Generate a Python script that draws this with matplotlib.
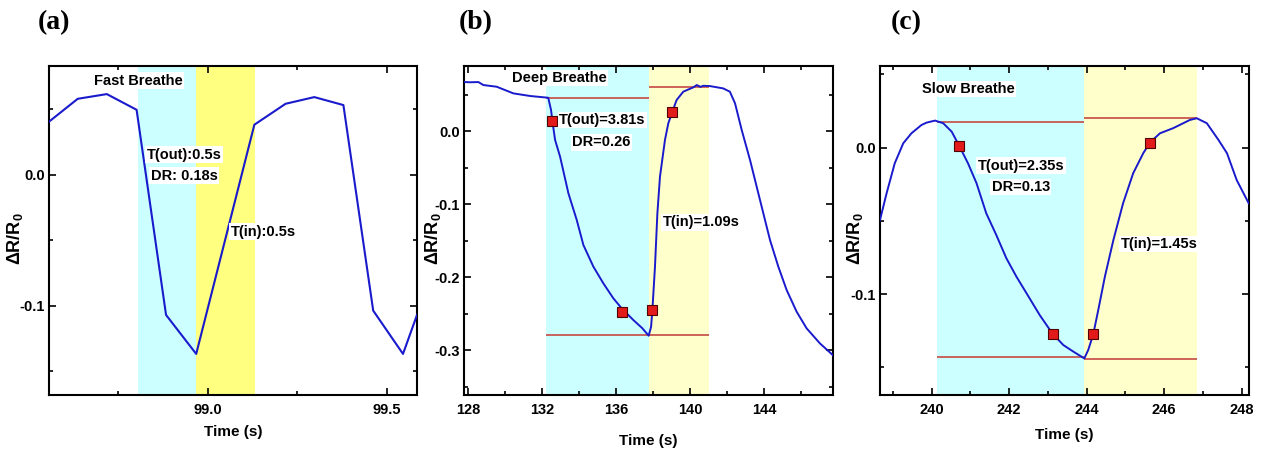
import matplotlib
matplotlib.use("Agg")
import matplotlib.pyplot as plt
from matplotlib import font_manager as fm
from matplotlib.ticker import FixedLocator, FormatStrFormatter

# ---------------- data ----------------
# (a) Fast breathe
a_t = [98.558, 98.638, 98.719, 98.802, 98.884, 98.968, 99.130, 99.217,
       99.297, 99.378, 99.461, 99.544, 99.583]
a_v = [0.0406, 0.0581, 0.0617, 0.0497, -0.1071, -0.1369, 0.0383, 0.0543,
       0.0594, 0.0533, -0.1038, -0.1369, -0.1071]
a_exhale = (98.807, 98.968)
a_inhale = (98.968, 99.1325)

# (b) Deep breathe
b_t = [127.78, 128.10, 128.54, 128.81, 129.53, 130.43, 131.34, 132.32, 132.47,
       132.56, 132.69, 132.96, 133.41, 133.86, 134.22, 134.76, 135.30, 135.84,
       136.29, 136.92, 137.40, 137.75, 137.88, 137.95, 138.09, 138.22, 138.36,
       138.63, 138.81, 139.03, 139.26, 139.62, 139.90, 140.16, 140.35, 140.55,
       140.70, 141.06, 141.78, 142.14, 142.42, 142.78, 143.23, 143.59, 143.95,
       144.31, 144.76, 145.21, 145.75, 146.29, 147.01, 147.70]
b_v = [0.0671, 0.0668, 0.0671, 0.0630, 0.0607, 0.0516, 0.0480, 0.0456, 0.0288,
       0.0105, -0.0123, -0.0352, -0.0854, -0.1219, -0.1562, -0.1858, -0.2087,
       -0.2292, -0.2429, -0.2589, -0.2700, -0.2804, -0.2680, -0.2452, -0.1858,
       -0.1128, -0.0626, -0.0123, 0.0105, 0.0265, 0.0425, 0.0539, 0.0570,
       0.0598, 0.0630, 0.0605, 0.0620, 0.0616, 0.0584, 0.0539, 0.0379, 0.0014,
       -0.0397, -0.0763, -0.1128, -0.1493, -0.1858, -0.2178, -0.2475, -0.2703,
       -0.2909, -0.3068]
b_mark_t = [132.51, 136.29, 137.95, 139.03]
b_mark_v = [0.0137, -0.2475, -0.2452, 0.0265]
b_exhale = (132.2, 137.75)
b_inhale = (137.75, 141.0)
b_top_out, b_top_in, b_bottom = 0.0456, 0.0603, -0.2795

# (c) Slow breathe
c_t = [238.67, 238.84, 239.05, 239.27, 239.48, 239.74, 239.87, 240.09, 240.30,
       240.52, 240.71, 240.94, 241.16, 241.41, 241.67, 241.93, 242.19, 242.45,
       242.79, 243.12, 243.40, 243.66, 243.94, 244.04, 244.17, 244.30, 244.47,
       244.69, 244.94, 245.20, 245.46, 245.63, 245.89, 246.23, 246.40, 246.66,
       246.84, 247.10, 247.40, 247.62, 247.87, 248.18]
c_v = [-0.0494, -0.0312, -0.0107, 0.0030, 0.0098, 0.0155, 0.0171, 0.0185,
       0.0167, 0.0109, 0.0014, -0.0107, -0.0243, -0.0448, -0.0597, -0.0756,
       -0.0882, -0.0995, -0.1144, -0.1271, -0.1349, -0.1394, -0.1440, -0.1383,
       -0.1276, -0.1109, -0.0882, -0.0631, -0.0380, -0.0175, -0.0038, 0.0034,
       0.0098, 0.0133, 0.0155, 0.0189, 0.0201, 0.0167, 0.0053, -0.0038,
       -0.0221, -0.0380]
c_mark_t = [240.71, 243.12, 244.17, 245.63]
c_mark_v = [0.0014, -0.1271, -0.1276, 0.0034]
c_exhale = (240.13, 243.92)
c_inhale = (243.92, 246.84)
c_top_out, c_top_in = 0.0178, 0.0205
c_bot_out, c_bot_in = -0.1433, -0.1444

# ---------------- fonts ----------------
def available(name):
    try:
        fm.findfont(fm.FontProperties(family=name, weight='bold'),
                    fallback_to_default=False)
        return True
    except Exception:
        return False

if available('Liberation Sans Narrow'):
    SANS, FS = 'Liberation Sans Narrow', 12
else:
    SANS, FS = 'Liberation Sans', 10.5
WIDE = 'Liberation Sans' if available('Liberation Sans') else 'DejaVu Sans'
SERIF = 'Liberation Serif' if available('Liberation Serif') else 'DejaVu Serif'

plt.rcParams['font.family'] = [SANS, 'DejaVu Sans']
plt.rcParams['font.weight'] = 'bold'
plt.rcParams['axes.unicode_minus'] = False
plt.rcParams['mathtext.fontset'] = 'custom'
plt.rcParams['mathtext.rm'] = WIDE + ':bold'
plt.rcParams['mathtext.it'] = WIDE + ':bold'
plt.rcParams['mathtext.bf'] = WIDE + ':bold'

CURVE = '#1a1acd'
CYAN = '#ccffff'
YEL_A = '#ffff80'
YEL = '#ffffcc'
RED_LINE = '#c8574f'
MARK_FACE = '#e31a1a'
MARK_EDGE = '#500000'

W, H = 1263, 454
fig = plt.figure(figsize=(W / 100, H / 100), dpi=100)

def make_ax(left_px, right_px):
    return fig.add_axes([left_px / W, 1 - 395 / H, (right_px - left_px) / W,
                         (395 - 65.7) / H])

def style(ax, xmaj, xmin, ymaj, ymin, xfmt, ylab_x, xlab_y):
    ax.xaxis.set_major_locator(FixedLocator(xmaj))
    ax.xaxis.set_minor_locator(FixedLocator(xmin))
    ax.yaxis.set_major_locator(FixedLocator(ymaj))
    ax.yaxis.set_minor_locator(FixedLocator(ymin))
    ax.xaxis.set_major_formatter(FormatStrFormatter(xfmt))
    ax.yaxis.set_major_formatter(FormatStrFormatter('%.1f'))
    ax.tick_params(which='both', direction='in', top=True, right=True,
                   width=1.2, colors='black')
    ax.tick_params(which='major', length=5)
    ax.tick_params(which='minor', length=3)
    ax.tick_params(axis='x', which='major', pad=6, labelsize=FS)
    ax.tick_params(axis='y', which='major', pad=3, labelsize=FS)
    for lab in ax.get_xticklabels() + ax.get_yticklabels():
        lab.set_fontweight('bold')
    for s in ax.spines.values():
        s.set_linewidth(1.5)
    ax.set_xlabel('Time (s)', fontsize=FS + 0.5, fontweight='bold')
    ax.xaxis.set_label_coords(0.5, xlab_y)
    ax.xaxis.label.set_va('center')
    ax.set_ylabel('ΔR/R$_0$', fontsize=13, fontweight='bold', family=WIDE)
    ax.yaxis.set_label_coords(ylab_x, 0.475)
    ax.yaxis.label.set_va('center')

def note(ax, x, y, s, box=True):
    kw = dict(ha='center', va='center', fontsize=FS, fontweight='bold',
              color='black', zorder=6)
    if box:
        kw['bbox'] = dict(facecolor='white', edgecolor='none', pad=1.0)
    ax.text(x, y, s, **kw)

# ---------- (a) ----------
axa = make_ax(49, 417)
axa.axvspan(*a_exhale, color=CYAN, zorder=0, lw=0)
axa.axvspan(*a_inhale, color=YEL_A, zorder=0, lw=0)
axa.plot(a_t, a_v, color=CURVE, lw=1.5, zorder=3)
axa.set_xlim(98.558, 99.583)
axa.set_ylim(-0.1683, 0.0834)
style(axa, [99.0, 99.5], [98.75, 99.25], [-0.1, 0.0], [-0.15, -0.05, 0.05],
      '%.1f', -0.092, -0.1125)
note(axa, 98.806, 0.0719, 'Fast Breathe')
note(axa, 98.934, 0.0153, 'T(out):0.5s')
note(axa, 98.934, -0.0008, 'DR: 0.18s')
note(axa, 99.155, -0.0436, 'T(in):0.5s')

# ---------- (b) ----------
axb = make_ax(464.3, 832.7)
axb.axvspan(*b_exhale, color=CYAN, zorder=0, lw=0)
axb.axvspan(*b_inhale, color=YEL, zorder=0, lw=0)
axb.hlines(b_top_out, *b_exhale, color=RED_LINE, lw=1.3, zorder=2)
axb.hlines(b_top_in, *b_inhale, color=RED_LINE, lw=1.3, zorder=2)
axb.hlines(b_bottom, b_exhale[0], b_inhale[1], color=RED_LINE, lw=1.3, zorder=2)
axb.plot(b_t, b_v, color=CURVE, lw=1.4, zorder=3)
axb.plot(b_mark_t, b_mark_v, ls='none', marker='s', ms=6.5, mfc=MARK_FACE,
         mec=MARK_EDGE, mew=0.8, zorder=5)
axb.set_xlim(127.78, 147.70)
axb.set_ylim(-0.3616, 0.0895)
style(axb, [128, 132, 136, 140, 144], [130, 134, 138, 142, 146],
      [-0.3, -0.2, -0.1, 0.0], [-0.35, -0.25, -0.15, -0.05, 0.05],
      '%d', -0.085, -0.14)
note(axb, 132.93, 0.0726, 'Deep Breathe')
note(axb, 135.25, 0.0151, 'T(out)=3.81s')
note(axb, 135.2, -0.0151, 'DR=0.26')
note(axb, 140.6, -0.1247, 'T(in)=1.09s')

# ---------- (c) ----------
axc = make_ax(880, 1248.7)
axc.axvspan(*c_exhale, color=CYAN, zorder=0, lw=0)
axc.axvspan(*c_inhale, color=YEL, zorder=0, lw=0)
axc.hlines(c_top_out, *c_exhale, color=RED_LINE, lw=1.3, zorder=2)
axc.hlines(c_top_in, *c_inhale, color=RED_LINE, lw=1.3, zorder=2)
axc.hlines(c_bot_out, *c_exhale, color=RED_LINE, lw=1.3, zorder=2)
axc.hlines(c_bot_in, *c_inhale, color=RED_LINE, lw=1.3, zorder=2)
axc.plot(c_t, c_v, color=CURVE, lw=1.4, zorder=3)
axc.plot(c_mark_t, c_mark_v, ls='none', marker='s', ms=6.5, mfc=MARK_FACE,
         mec=MARK_EDGE, mew=0.8, zorder=5)
axc.set_xlim(238.67, 248.18)
axc.set_ylim(-0.169, 0.056)
style(axc, [240, 242, 244, 246, 248], [239, 241, 243, 245, 247],
      [-0.1, 0.0], [-0.15, -0.05, 0.05], '%d', -0.068, -0.1216)
note(axc, 240.95, 0.0401, 'Slow Breathe')
note(axc, 242.30, -0.0125, 'T(out)=2.35s')
note(axc, 242.30, -0.0269, 'DR=0.13')
note(axc, 245.87, -0.0658, 'T(in)=1.45s')

# panel labels
for xp, lab in [(54, '(a)'), (476, '(b)'), (906, '(c)')]:
    fig.text(xp / W, 1 - 23 / H, lab, ha='center', va='center', fontsize=20,
             fontweight='bold', family=SERIF)

fig.savefig('out.png', dpi=100, facecolor='white')
